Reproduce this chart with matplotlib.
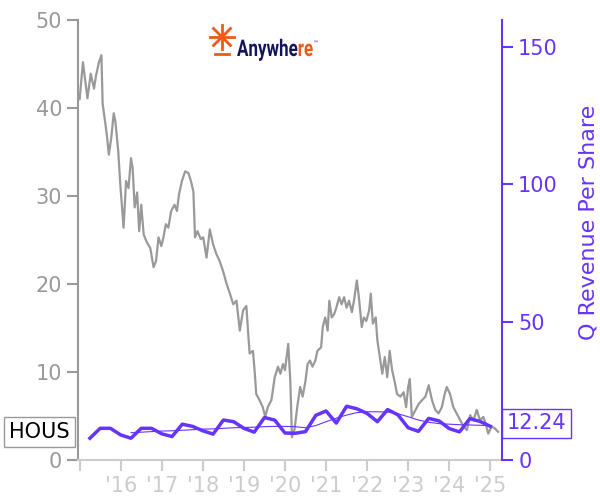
import numpy as np
import matplotlib.pyplot as plt
from matplotlib.textpath import TextPath
from matplotlib.patches import PathPatch
from matplotlib.font_manager import FontProperties
from matplotlib.transforms import Affine2D

# HOUS share price (decimal year, close)
price_t = [2015.00, 2015.08, 2015.19, 2015.27, 2015.35, 2015.40, 2015.47, 2015.53, 2015.56, 2015.63,
           2015.67, 2015.71, 2015.77, 2015.83, 2015.87, 2015.94, 2015.99, 2016.07, 2016.13, 2016.19,
           2016.25, 2016.29, 2016.34, 2016.40, 2016.45, 2016.50, 2016.56, 2016.64, 2016.72, 2016.80,
           2016.86, 2016.92, 2016.99, 2017.04, 2017.10, 2017.16, 2017.23, 2017.31, 2017.37, 2017.42,
           2017.49, 2017.57, 2017.65, 2017.71, 2017.77, 2017.81, 2017.87, 2017.95, 2018.01, 2018.09,
           2018.17, 2018.25, 2018.33, 2018.41, 2018.49, 2018.58, 2018.66, 2018.74, 2018.82, 2018.90,
           2018.98, 2019.06, 2019.10, 2019.14, 2019.22, 2019.26, 2019.30, 2019.38, 2019.46, 2019.52,
           2019.58, 2019.67, 2019.75, 2019.83, 2019.89, 2019.95, 2020.00, 2020.08, 2020.13, 2020.17,
           2020.23, 2020.31, 2020.37, 2020.43, 2020.50, 2020.55, 2020.61, 2020.67, 2020.74, 2020.79,
           2020.88, 2020.92, 2020.98, 2021.04, 2021.08, 2021.14, 2021.20, 2021.25, 2021.32, 2021.38,
           2021.44, 2021.50, 2021.56, 2021.63, 2021.68, 2021.75, 2021.80, 2021.87, 2021.92, 2021.98,
           2022.05, 2022.09, 2022.14, 2022.21, 2022.25, 2022.31, 2022.37, 2022.43, 2022.49, 2022.55,
           2022.61, 2022.68, 2022.73, 2022.81, 2022.89, 2022.95, 2023.00, 2023.04, 2023.09, 2023.18,
           2023.26, 2023.34, 2023.42, 2023.50, 2023.58, 2023.66, 2023.74, 2023.82, 2023.89, 2023.94,
           2024.02, 2024.10, 2024.18, 2024.27, 2024.35, 2024.43, 2024.51, 2024.59, 2024.67, 2024.75,
           2024.83, 2024.89, 2024.95, 2025.03, 2025.11, 2025.19]
price = [41.0, 45.2, 41.1, 43.9, 42.2, 43.7, 45.2, 46.0, 40.5, 38.1,
         36.6, 34.7, 36.6, 39.4, 38.5, 35.1, 31.3, 26.4, 31.7, 30.9,
         34.3, 33.2, 28.7, 30.4, 26.0, 29.0, 25.6, 24.7, 24.1, 21.9,
         22.6, 25.3, 24.3, 25.3, 26.8, 26.4, 28.3, 29.0, 28.3, 30.2,
         31.7, 32.8, 32.6, 31.7, 30.5, 25.3, 26.0, 25.1, 25.3, 23.0,
         26.2, 24.5, 23.4, 22.6, 21.5, 20.0, 18.9, 17.7, 18.1, 14.7,
         17.0, 17.5, 14.7, 12.1, 12.4, 10.2, 7.5, 6.8, 6.0, 4.9,
         6.0, 6.8, 9.4, 10.6, 9.8, 10.9, 10.2, 13.2, 9.0, 2.6,
         3.4, 6.4, 8.3, 7.2, 9.0, 10.9, 11.3, 10.6, 11.3, 12.4,
         12.8, 15.1, 16.2, 14.7, 18.1, 16.2, 16.6, 17.3, 18.5, 17.7,
         18.5, 17.3, 18.1, 16.8, 18.1, 20.4, 18.5, 15.1, 16.2, 15.8,
         17.0, 18.9, 15.5, 16.2, 13.6, 11.7, 9.8, 11.7, 9.4, 12.4,
         10.2, 8.7, 7.5, 7.2, 7.7, 6.0, 8.3, 9.2, 4.9, 5.7,
         6.4, 6.8, 7.2, 8.5, 6.8, 5.7, 5.3, 6.0, 7.5, 8.3,
         7.5, 6.0, 5.3, 4.5, 3.8, 3.4, 5.1, 4.5, 5.7, 4.5,
         4.9, 4.1, 3.0, 3.8, 3.6, 3.2]

# quarterly revenue per share, Q1 2015 .. Q3 2024
rev_t = [2015.25 + 0.25 * i for i in range(40)]
rev = [7.9, 11.5, 11.5, 9.1, 7.9, 11.5, 11.5, 9.5, 8.5, 13.0,
       12.2, 10.6, 9.4, 14.5, 13.9, 11.5, 10.1, 15.4, 14.5, 9.8,
       9.7, 10.3, 16.2, 17.8, 13.4, 19.5, 18.6, 16.9, 13.9, 18.3,
       16.4, 11.7, 10.4, 15.1, 14.2, 11.4, 10.2, 15.0, 14.0, 12.24]
# smoothed trailing line, starts at the 5th quarter
avg_t = rev_t[4:]
avg = [9.9, 10.1, 10.3, 10.5, 10.6, 10.8, 11.0, 11.2, 11.3, 11.5,
       11.7, 11.8, 11.9, 12.1, 12.2, 12.2, 12.1, 11.7, 12.5, 13.9,
       15.2, 16.3, 17.2, 17.5, 17.5, 17.4, 16.8, 15.7, 14.5, 13.7,
       13.2, 13.0, 12.8, 12.7, 12.6, 12.5]

years = list(range(2015, 2026))
year_labels = [''] + ["'" + str(y)[2:] for y in years[1:]]

purple = '#6633ff'
gray = '#999999'
light = '#cccccc'
orange = '#f05a14'
navy = '#14145a'

fig = plt.figure(figsize=(6, 5), dpi=100)
ax = fig.add_axes([0.13, 0.08, 0.707, 0.88])
ax2 = ax.twinx()

ax.plot(price_t, price, color=gray, lw=1.6)
ax2.plot(rev_t, rev, color=purple, lw=2.5)
ax2.plot(avg_t, avg, color=purple, lw=0.8)

ax.set_xlim(2014.96, 2025.29)
ax.set_ylim(0, 50)
ax2.set_ylim(0, 159.7)

ax.set_xticks(years)
ax.set_xticklabels(year_labels)
ax.set_yticks([0, 10, 20, 30, 40, 50])
ax2.set_yticks([0, 50, 100, 150])

for s in ['top', 'right']:
    ax.spines[s].set_visible(False)
for s in ['top', 'left', 'bottom']:
    ax2.spines[s].set_visible(False)
ax.spines['left'].set_color(gray)
ax.spines['left'].set_linewidth(1.5)
ax.spines['bottom'].set_color(light)
ax.spines['bottom'].set_linewidth(1.5)
ax2.spines['right'].set_color(purple)
ax2.spines['right'].set_linewidth(1.5)

ax.tick_params(axis='y', colors=gray, labelsize=15, length=8, width=1.5)
ax.tick_params(axis='x', colors=light, labelsize=15, length=8, width=1.5)
ax2.tick_params(axis='y', colors=purple, labelsize=15, length=8, width=1.5)
ax2.set_ylabel('Q Revenue Per Share', color=purple, fontsize=16)
ax2.yaxis.set_label_coords(1.18, 0.54)

# ticker box at the last close
ax.annotate('HOUS', xy=(0, price[-1]), xycoords=('axes fraction', 'data'),
            xytext=(-6, 0), textcoords='offset points', ha='right', va='center',
            fontsize=15, color='black',
            bbox=dict(boxstyle='square,pad=0.25', fc='white', ec=gray, lw=1))
# last revenue value box
ax2.annotate('%.2f' % rev[-1], xy=(1, rev[-1]), xycoords=('axes fraction', 'data'),
             xytext=(3, 2), textcoords='offset points', ha='left', va='center',
             fontsize=15, color=purple,
             bbox=dict(boxstyle='square,pad=0.22', fc='white', ec=purple, lw=1))

# logo: orange asterisk with a bar under it, then a condensed word mark
cx, cy, r = 222 / 600, 1 - 37 / 500, 12
for a in np.arange(0, 180, 45):
    dx = r * np.cos(np.radians(a)) / 600
    dy = r * np.sin(np.radians(a)) / 500
    fig.add_artist(plt.Line2D([cx - dx, cx + dx], [cy - dy, cy + dy], color=orange, lw=2))
fig.add_artist(plt.Line2D([215 / 600, 229 / 600], [1 - 54 / 500, 1 - 54 / 500], color=orange, lw=2))

fp = FontProperties(family='Roboto', weight='bold')
base_x, base_y, em, squeeze = 237, 500 - 56, 23, 0.74
p1 = TextPath((0, 0), 'Anywhe', size=em, prop=fp)
w1 = p1.get_extents().x1
p2 = TextPath((w1 + 0.5, 0), 're', size=em, prop=fp)
w2 = p2.get_extents().x1
p3 = TextPath((w2 + 1, em * 0.45), '\u2122', size=em * 0.3, prop=FontProperties(family='DejaVu Sans'))
tr = Affine2D().scale(squeeze, 1).translate(base_x, base_y)
for p, c in [(p1, navy), (p2, orange), (p3, navy)]:
    fig.add_artist(PathPatch(tr.transform_path(p), fc=c, ec='none', transform=None))

fig.savefig('out.png', dpi=100)
